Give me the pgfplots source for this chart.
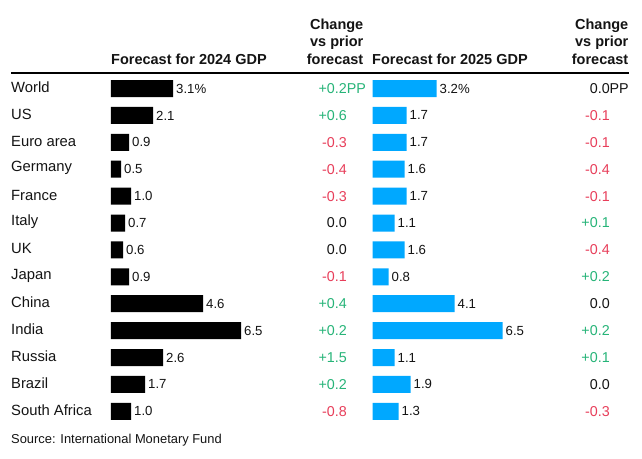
\documentclass[border=0pt]{standalone}
\usepackage{fontspec}
\setmainfont{Liberation Sans}
\usepackage{pgfplots}
\pgfplotsset{compat=1.18}
\definecolor{barblue}{RGB}{0,168,255}
\definecolor{posgreen}{RGB}{38,180,120}
\definecolor{negred}{RGB}{232,62,90}
\definecolor{txt}{RGB}{20,20,20}
\newcommand{\rowfont}{\fontsize{14.8}{16}\selectfont}
\newcommand{\valfont}{\fontsize{13.2}{15}\selectfont}
\newcommand{\chgfont}{\fontsize{14.3}{15}\selectfont}
\newcommand{\hdfont}{\fontsize{14.5}{16}\selectfont\bfseries}
\begin{document}
\begin{tikzpicture}
\path[use as bounding box, fill=white] (0pt,0pt) rectangle (642pt,-458pt);
\pgfplotsset{
  tablestyle/.style={
    scale only axis, width=140pt, height=349.7pt,
    xmin=0, xmax=7, ymin=-0.5, ymax=12.5, y dir=reverse,
    axis line style={draw=none}, xtick=\empty, major tick length=0pt,
    clip=false,
  },
  chg/.style={draw=none, mark=none, nodes near coords, point meta=explicit symbolic,
    nodes near coords style={anchor=east, inner sep=0pt, font=\chgfont, text=#1}},
}
% ---------- 2024 ----------
\begin{axis}[tablestyle, at={(111pt,-75.05pt)}, anchor=north west,
  ytick={0,...,12},
  yticklabels={World,US,Euro area,Germany,France,Italy,UK,Japan,China,India,Russia,Brazil,South Africa},
  yticklabel style={anchor=west, xshift=-100pt, yshift=1pt, inner sep=0pt, font=\rowfont, text=txt},
]
\addplot[xbar, bar width=17pt, fill=black, draw=none,
  nodes near coords, point meta=explicit symbolic,
  nodes near coords style={anchor=west, inner sep=0pt, xshift=3pt, font=\valfont, text=txt}]
  coordinates {
  (3.1,0) [3.1\%] (2.1,1) [2.1] (0.9,2) [0.9] (0.5,3) [0.5] (1.0,4) [1.0]
  (0.7,5) [0.7] (0.6,6) [0.6] (0.9,7) [0.9] (4.6,8) [4.6] (6.5,9) [6.5]
  (2.6,10) [2.6] (1.7,11) [1.7] (1.0,12) [1.0]};
\addplot[chg=posgreen] coordinates {
  (11.8,0) [+0.2\rlap{PP}] (11.8,1) [+0.6] (11.8,8) [+0.4] (11.8,9) [+0.2]
  (11.8,10) [+1.5] (11.8,11) [+0.2]};
\addplot[chg=negred] coordinates {
  (11.8,2) [-0.3] (11.8,3) [-0.4] (11.8,4) [-0.3] (11.8,7) [-0.1] (11.8,12) [-0.8]};
\addplot[chg=txt] coordinates {
  (11.8,5) [0.0] (11.8,6) [0.0]};
\end{axis}
% ---------- 2025 ----------
\begin{axis}[tablestyle, at={(372.5pt,-75.05pt)}, anchor=north west, ytick=\empty]
\addplot[xbar, bar width=17pt, fill=barblue, draw=none,
  nodes near coords, point meta=explicit symbolic,
  nodes near coords style={anchor=west, inner sep=0pt, xshift=3pt, font=\valfont, text=txt}]
  coordinates {
  (3.2,0) [3.2\%] (1.7,1) [1.7] (1.7,2) [1.7] (1.6,3) [1.6] (1.7,4) [1.7]
  (1.1,5) [1.1] (1.6,6) [1.6] (0.8,7) [0.8] (4.1,8) [4.1] (6.5,9) [6.5]
  (1.1,10) [1.1] (1.9,11) [1.9] (1.3,12) [1.3]};
\addplot[chg=posgreen] coordinates {
  (11.87,5) [+0.1] (11.87,7) [+0.2] (11.87,9) [+0.2] (11.87,10) [+0.1]};
\addplot[chg=negred] coordinates {
  (11.87,1) [-0.1] (11.87,2) [-0.1] (11.87,3) [-0.4] (11.87,4) [-0.1] (11.87,6) [-0.4] (11.87,12) [-0.3]};
\addplot[chg=txt] coordinates {
  (11.87,0) [0.0\rlap{PP}] (11.87,8) [0.0] (11.87,11) [0.0]};
\end{axis}
% ---------- headers ----------
\node[anchor=base west, inner sep=0pt, font=\hdfont, text=txt] at (111pt,-64.3pt) {Forecast for 2024 GDP};
\node[anchor=base west, inner sep=0pt, font=\hdfont, text=txt] at (372pt,-64.3pt) {Forecast for 2025 GDP};
\foreach \xx in {363.5,628.5}{
  \node[anchor=base east, inner sep=0pt, font=\hdfont, text=txt] at (\xx pt,-29.5pt) {Change};
  \node[anchor=base east, inner sep=0pt, font=\hdfont, text=txt] at (\xx pt,-46.9pt) {vs prior};
  \node[anchor=base east, inner sep=0pt, font=\hdfont, text=txt] at (\xx pt,-64.3pt) {forecast};
}
\draw[line width=2.3pt, black] (11pt,-73.3pt) -- (628.5pt,-73.3pt);
\node[anchor=base west, inner sep=0pt, font=\fontsize{12.9}{15}\selectfont, text=txt] at (11pt,-443pt) {Source: International Monetary Fund};
\end{tikzpicture}
\end{document}
